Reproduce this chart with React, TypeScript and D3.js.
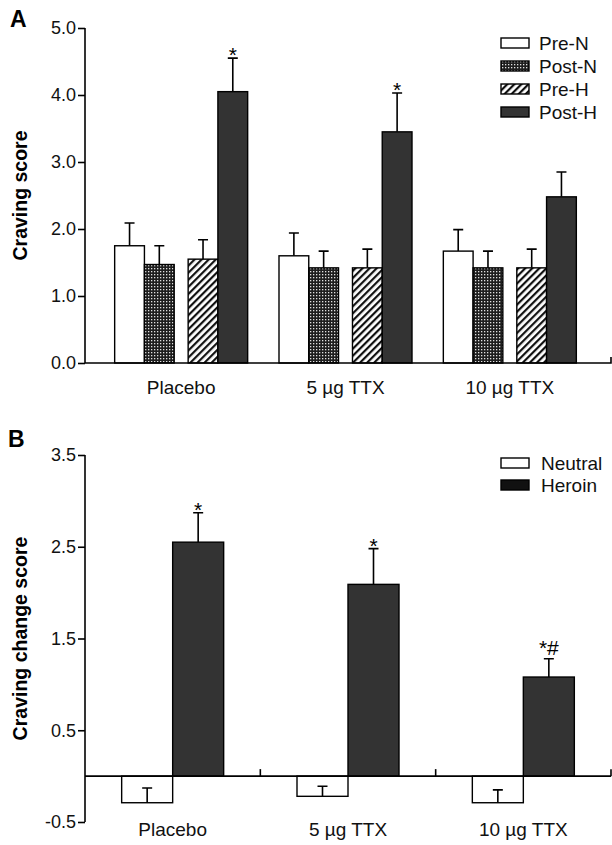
import React, { useEffect, useRef } from 'react';
import * as d3 from 'd3';

// groups along the x axis
const groups = ['Placebo', '5 µg TTX', '10 µg TTX'];

// panel A series
const seriesA = ['Pre-N', 'Post-N', 'Pre-H', 'Post-H'];
const preN = [1.75, 1.6, 1.67];
const preNErr = [0.34, 0.34, 0.32];
const postN = [1.47, 1.42, 1.42];
const postNErr = [0.28, 0.25, 0.25];
const preH = [1.55, 1.42, 1.42];
const preHErr = [0.29, 0.28, 0.28];
const postH = [4.05, 3.45, 2.48];
const postHErr = [0.5, 0.58, 0.37];
const marksA = ['*', '*', ''];
const ticksA = [0, 1, 2, 3, 4, 5];

// panel B series
const seriesB = ['Neutral', 'Heroin'];
const neutral = [-0.29, -0.22, -0.29];
const neutralErr = [0.16, 0.11, 0.14];
const heroin = [2.55, 2.09, 1.08];
const heroinErr = [0.32, 0.39, 0.2];
const marksB = ['*', '*', '*#'];
const ticksB = [-0.5, 0.5, 1.5, 2.5, 3.5];

const FONT = '"Liberation Sans", Arial, Helvetica, sans-serif';

const App = () => {
    const svgRef = useRef(null);

    useEffect(() => {
        const svg = d3.select(svgRef.current);
        svg.selectAll('*').remove();

        // patterns
        const defs = svg.append('defs');
        const dots = defs.append('pattern')
            .attr('id', 'dots')
            .attr('patternUnits', 'userSpaceOnUse')
            .attr('width', 3).attr('height', 3);
        dots.append('rect').attr('width', 3).attr('height', 3).attr('fill', '#1e1e1e');
        dots.append('rect').attr('x', 1).attr('y', 1).attr('width', 1.3).attr('height', 1.3).attr('fill', '#e0e0e0');

        const stripes = defs.append('pattern')
            .attr('id', 'stripes')
            .attr('patternUnits', 'userSpaceOnUse')
            .attr('width', 5).attr('height', 5)
            .attr('patternTransform', 'rotate(45)');
        stripes.append('rect').attr('width', 5).attr('height', 5).attr('fill', '#fff');
        stripes.append('rect').attr('width', 2.2).attr('height', 5).attr('fill', '#111');

        const fillA = ['#fff', 'url(#dots)', 'url(#stripes)', '#333'];
        const fmt = d => d.toFixed(1);

        // ---------------- panel A ----------------
        const yA = d3.scaleLinear().domain([0, 5]).range([363, 28]);
        const xA = d3.scaleBand().domain(groups).range([99, 592]).padding(0);
        const groupW = 133;
        const pairScale = d3.scaleBand().domain(['N', 'H']).range([0, groupW]).paddingInner(0.19);
        const barW = pairScale.bandwidth() / 2;

        const valsA = [preN, postN, preH, postH];
        const errsA = [preNErr, postNErr, preHErr, postHErr];

        const barsA = [];
        groups.forEach((g, gi) => {
            const left = xA(g) + (xA.bandwidth() - groupW) / 2;
            seriesA.forEach((s, si) => {
                const x = left + pairScale(si < 2 ? 'N' : 'H') + (si % 2) * barW;
                barsA.push({ g, gi, si, x, v: valsA[si][gi], e: errsA[si][gi] });
            });
        });

        const gA = svg.append('g');

        // error bars first (stem partly hidden behind bar)
        gA.selectAll('.errA')
            .data(barsA)
            .enter().append('path')
            .attr('d', d => {
                const cx = d.x + barW / 2;
                const top = yA(d.v + d.e);
                return `M${cx},${yA(d.v)}V${top}M${cx - 5},${top}H${cx + 5}`;
            })
            .attr('stroke', '#000')
            .attr('stroke-width', 1.6)
            .attr('fill', 'none');

        gA.selectAll('.barA')
            .data(barsA)
            .enter().append('rect')
            .attr('x', d => d.x)
            .attr('y', d => yA(d.v))
            .attr('width', barW)
            .attr('height', d => yA(0) - yA(d.v))
            .attr('fill', d => fillA[d.si])
            .attr('stroke', '#000')
            .attr('stroke-width', 1.4);

        // significance marks
        gA.selectAll('.markA')
            .data(barsA.filter(d => d.si === 3))
            .enter().append('text')
            .attr('x', d => d.x + barW / 2)
            .attr('y', d => yA(d.v + d.e) + 4)
            .attr('text-anchor', 'middle')
            .attr('font-family', FONT)
            .attr('font-size', 21)
            .text(d => marksA[d.gi]);

        // axes A
        const axisA = gA.append('g')
            .attr('transform', 'translate(85,0)')
            .call(d3.axisLeft(yA).tickValues(ticksA).tickFormat(fmt).tickSize(7).tickPadding(2));
        axisA.select('.domain').attr('d', `M0,${yA(5)}V${yA(0)}`).attr('stroke-width', 1.6);
        axisA.selectAll('line').attr('stroke-width', 1.6);
        axisA.selectAll('text').attr('font-family', FONT).attr('font-size', 18).attr('fill', '#111');

        gA.append('path')
            .attr('d', `M85,${yA(0)}H611V${yA(0) - 6}`)
            .attr('stroke', '#000')
            .attr('stroke-width', 1.6)
            .attr('fill', 'none');

        gA.selectAll('.xlabA')
            .data(groups)
            .enter().append('text')
            .attr('x', d => xA(d) + xA.bandwidth() / 2)
            .attr('y', 394)
            .attr('text-anchor', 'middle')
            .attr('font-family', FONT)
            .attr('font-size', 19)
            .attr('fill', '#111')
            .text(d => d);

        gA.append('text')
            .attr('transform', `translate(27,${(yA(0) + yA(5)) / 2}) rotate(-90)`)
            .attr('text-anchor', 'middle')
            .attr('font-family', FONT)
            .attr('font-size', 19.5)
            .attr('font-weight', 'bold')
            .text('Craving score');

        gA.append('text')
            .attr('x', 10).attr('y', 27)
            .attr('font-family', FONT)
            .attr('font-size', 23)
            .attr('font-weight', 'bold')
            .text('A');

        // legend A
        const legA = gA.selectAll('.legA')
            .data(seriesA)
            .enter().append('g')
            .attr('transform', (d, i) => `translate(501,${43 + i * 23})`);
        legA.append('rect')
            .attr('x', 0).attr('y', -5)
            .attr('width', 28).attr('height', 10)
            .attr('fill', (d, i) => fillA[i])
            .attr('stroke', '#000')
            .attr('stroke-width', 1.4);
        legA.append('text')
            .attr('x', 38).attr('y', 6.5)
            .attr('font-family', FONT)
            .attr('font-size', 19)
            .attr('fill', '#111')
            .text(d => d);

        // ---------------- panel B ----------------
        const yB = d3.scaleLinear().domain([-0.5, 3.5]).range([822, 455]);
        const xB = d3.scaleBand().domain(groups).range([85, 611]).padding(0);
        const subB = d3.scaleBand().domain(seriesB).range([0, 102]);
        const valsB = [neutral, heroin];
        const errsB = [neutralErr, heroinErr];
        const fillB = ['#fff', '#333'];

        const barsB = [];
        groups.forEach((g, gi) => {
            const left = xB(g) + xB.bandwidth() / 2 - 51;
            seriesB.forEach((s, si) => {
                barsB.push({ g, gi, si, x: left + subB(s), v: valsB[si][gi], e: errsB[si][gi] });
            });
        });
        const bwB = subB.bandwidth();

        const gB = svg.append('g');

        gB.selectAll('.errB')
            .data(barsB)
            .enter().append('path')
            .attr('d', d => {
                const cx = d.x + bwB / 2;
                const top = yB(d.v + d.e);
                return `M${cx},${yB(d.v)}V${top}M${cx - 5},${top}H${cx + 5}`;
            })
            .attr('stroke', '#000')
            .attr('stroke-width', 1.6)
            .attr('fill', 'none');

        gB.selectAll('.barB')
            .data(barsB)
            .enter().append('rect')
            .attr('x', d => d.x)
            .attr('y', d => yB(Math.max(0, d.v)))
            .attr('width', bwB)
            .attr('height', d => Math.abs(yB(d.v) - yB(0)))
            .attr('fill', d => d.si === 0 ? 'none' : fillB[d.si])
            .attr('stroke', '#000')
            .attr('stroke-width', 1.4);

        gB.selectAll('.markB')
            .data(barsB.filter(d => d.si === 1))
            .enter().append('text')
            .attr('x', d => d.x + bwB / 2)
            .attr('y', d => yB(d.v + d.e) + (marksB[d.gi].length > 1 ? -4 : 4))
            .attr('text-anchor', 'middle')
            .attr('font-family', FONT)
            .attr('font-size', 21)
            .text(d => marksB[d.gi]);

        const axisB = gB.append('g')
            .attr('transform', 'translate(85,0)')
            .call(d3.axisLeft(yB).tickValues(ticksB).tickFormat(fmt).tickSize(7).tickPadding(2));
        axisB.select('.domain').attr('d', `M0,${yB(3.5)}V${yB(-0.5)}`).attr('stroke-width', 1.6);
        axisB.selectAll('line').attr('stroke-width', 1.6);
        axisB.selectAll('text').attr('font-family', FONT).attr('font-size', 18).attr('fill', '#111');

        // zero line with group boundary ticks
        gB.append('line')
            .attr('x1', 85).attr('x2', 611)
            .attr('y1', yB(0)).attr('y2', yB(0))
            .attr('stroke', '#000').attr('stroke-width', 1.6);
        gB.selectAll('.sep')
            .data(groups)
            .enter().append('line')
            .attr('x1', d => xB(d) + xB.bandwidth())
            .attr('x2', d => xB(d) + xB.bandwidth())
            .attr('y1', yB(0)).attr('y2', yB(0) - 7)
            .attr('stroke', '#000').attr('stroke-width', 1.6);

        gB.selectAll('.xlabB')
            .data(groups)
            .enter().append('text')
            .attr('x', d => xB(d) + xB.bandwidth() / 2)
            .attr('y', 836)
            .attr('text-anchor', 'middle')
            .attr('font-family', FONT)
            .attr('font-size', 19)
            .attr('fill', '#111')
            .text(d => d);

        gB.append('text')
            .attr('transform', `translate(27,${(yB(-0.5) + yB(3.5)) / 2}) rotate(-90)`)
            .attr('text-anchor', 'middle')
            .attr('font-family', FONT)
            .attr('font-size', 19.5)
            .attr('font-weight', 'bold')
            .text('Craving change score');

        gB.append('text')
            .attr('x', 8).attr('y', 447)
            .attr('font-family', FONT)
            .attr('font-size', 23)
            .attr('font-weight', 'bold')
            .text('B');

        const legB = gB.selectAll('.legB')
            .data(seriesB)
            .enter().append('g')
            .attr('transform', (d, i) => `translate(501,${463 + i * 22})`);
        legB.append('rect')
            .attr('x', 0).attr('y', -5)
            .attr('width', 28).attr('height', 10)
            .attr('fill', (d, i) => i === 0 ? '#fff' : '#111')
            .attr('stroke', '#000')
            .attr('stroke-width', 1.4);
        legB.append('text')
            .attr('x', 40).attr('y', 6.5)
            .attr('font-family', FONT)
            .attr('font-size', 19)
            .attr('fill', '#111')
            .text(d => d);
    }, []);

    return (
        <svg
            ref={svgRef}
            width={612}
            height={845}
            style={{ position: 'absolute', left: 0, top: 0, background: '#fff', display: 'block' }}
        />
    );
};

export default App;
